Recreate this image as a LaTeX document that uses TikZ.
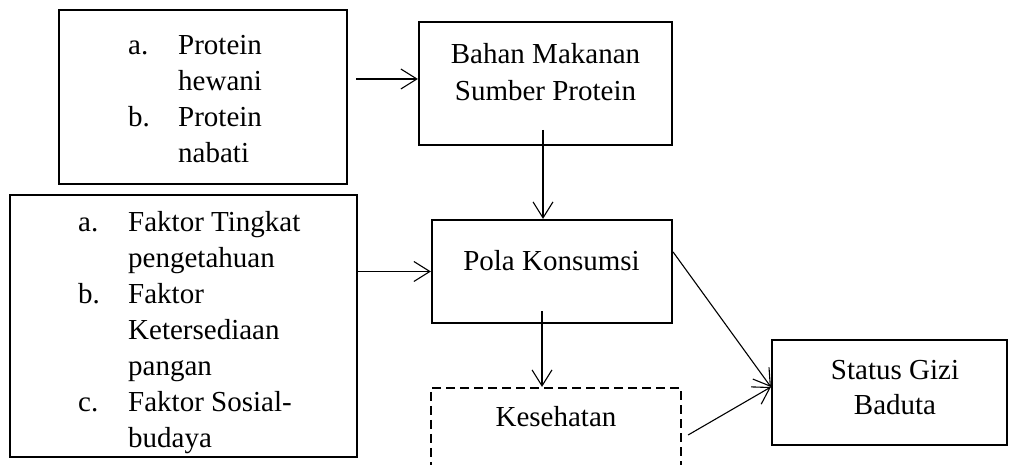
\documentclass[tikz,border=0pt]{standalone}
\usepackage{fontspec}
\setmainfont{Liberation Serif}
\usetikzlibrary{arrows.meta}
\tikzset{
  box/.style={draw, line width=2.2pt, inner sep=0pt, rectangle},
  dbox/.style={draw, line width=2.2pt, inner sep=0pt, rectangle, dash pattern=on 9pt off 5pt},
  txt/.style={inner sep=0pt, font=\fontsize{29}{36}\selectfont},
  arr/.style={line width=1.1pt, -{Straight Barb[length=16pt,width=20pt,line width=1.1pt]}}
}
\begin{document}
\begin{tikzpicture}[x=1pt,y=1pt]
\useasboundingbox (0,0) rectangle (1011,465);
\fill[white] (0,0) rectangle (1011,465);
\begin{scope}
\clip (0,0) rectangle (1011,465);
% boxes
\node[box, minimum width=288pt, minimum height=174pt] (b1) at (203,368) {};
\node[box, minimum width=253pt, minimum height=123pt] (b2) at (545.5,381.5) {};
\node[box, minimum width=347pt, minimum height=262pt] (b3) at (183.5,139) {};
\node[box, minimum width=240pt, minimum height=103pt] (pola) at (552,193.5) {};
\node[dbox, minimum width=250pt, minimum height=112pt] (kes) at (556,21) {};
\node[box, minimum width=235pt, minimum height=105pt] (status) at (889.5,72.5) {};
% texts
\node[txt, anchor=base west] (t1) at (128,410) {\begin{tabular}[t]{@{}p{50pt}@{}l@{}}a.&Protein\\&hewani\\b.&Protein\\&nabati\end{tabular}};
\node[txt, anchor=base] (t2) at (545.5,401) {\begin{tabular}[t]{@{}c@{}}Bahan Makanan\\[1pt]Sumber Protein\end{tabular}};
\node[txt, anchor=base west] (t3) at (78,233) {\begin{tabular}[t]{@{}p{50pt}@{}l@{}}a.&Faktor Tingkat\\&pengetahuan\\b.&Faktor\\&Ketersediaan\\&pangan\\c.&Faktor Sosial-\\&budaya\end{tabular}};
\node[txt, anchor=base] (t4) at (551.5,194) {Pola Konsumsi};
\node[txt, anchor=base] (t5) at (556,38) {Kesehatan};
\node[txt, anchor=base] (t6) at (895,85) {\begin{tabular}[t]{@{}c@{}}Status Gizi\\[-1pt]Baduta\end{tabular}};
% connectors
\coordinate (a1e) at ([yshift=4.5pt]b2.west);
\draw[arr] ([xshift=8pt]b1.east |- a1e) -- (a1e);
\coordinate (a2e) at ([xshift=-9pt]pola.north);
\coordinate (a2s) at ([xshift=-2.5pt,yshift=-46.5pt]b2.center);
\draw[arr] (a2s) -- (a2e);
\draw[arr] (b3.east |- pola.west) -- (pola.west);
\coordinate (a4e) at ([xshift=-14pt]kes.north);
\draw[arr] ([yshift=13pt]a4e |- pola.south) -- (a4e);
\coordinate (se) at ([yshift=5.5pt]status.west);
\draw[arr] ([yshift=19.5pt]pola.east) -- (se);
\draw[arr] ([xshift=6pt,yshift=9pt]kes.east) -- (se);
\end{scope}
\end{tikzpicture}
\end{document}
